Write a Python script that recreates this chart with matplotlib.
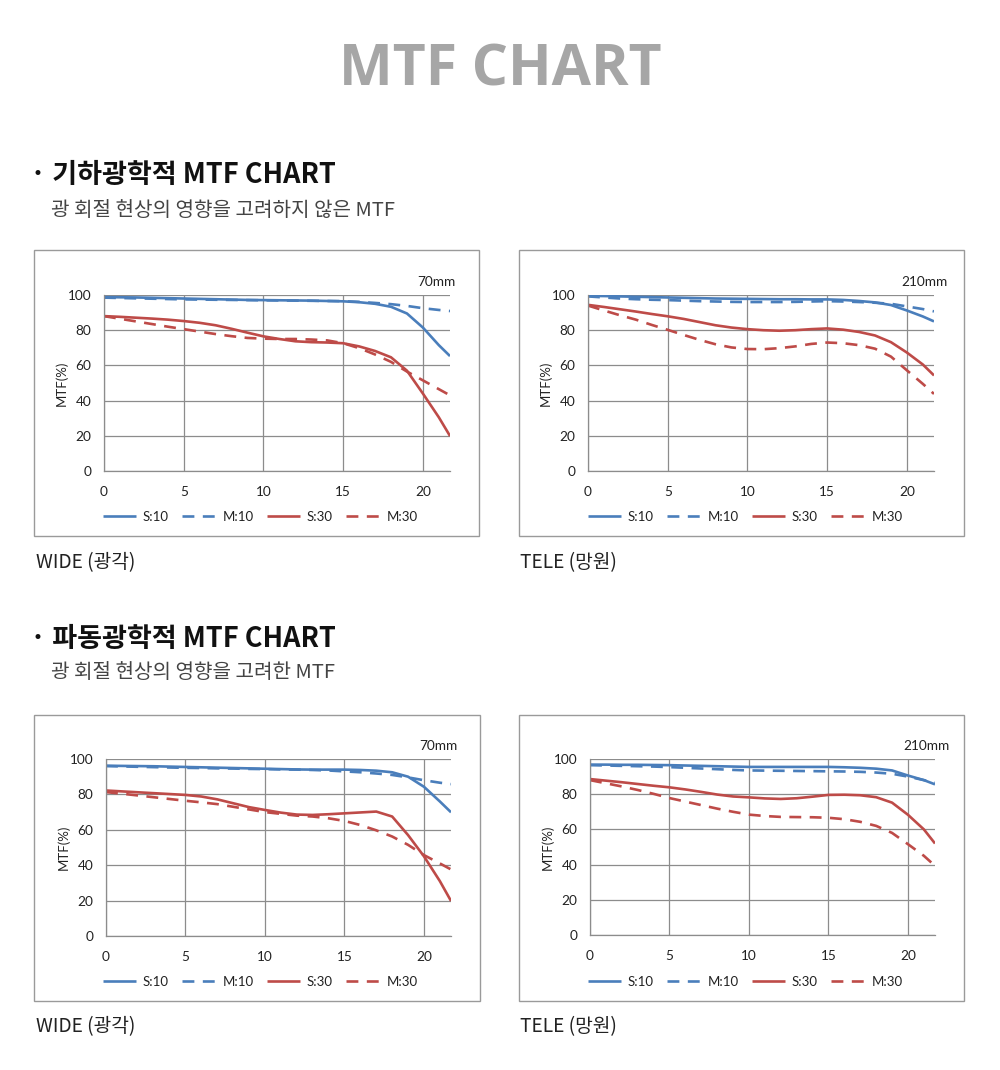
import matplotlib
matplotlib.use("Agg")
import matplotlib.pyplot as plt
from matplotlib.patches import Rectangle

plt.rcParams['font.family'] = ['Lato', 'Noto Sans CJK KR', 'DejaVu Sans']

# ---------------- data ----------------
field_x = [0, 1, 2, 3, 4, 5, 6, 7, 8, 9, 10, 11, 12, 13, 14, 15, 16, 17, 18, 19, 20, 21, 21.7]
x_ticks = [0, 5, 10, 15, 20]
y_ticks = [0, 20, 40, 60, 80, 100]
series_names = ["S:10", "M:10", "S:30", "M:30"]

# geometric MTF, wide (70mm)
geo_wide_s10 = [98.8, 98.7, 98.6, 98.4, 98.2, 98.0, 97.8, 97.6, 97.4, 97.2, 97.1, 97.0, 96.9, 96.8, 96.6, 96.4, 95.9, 95.0, 93.3, 89.5, 81.5, 71.5, 65.3]
geo_wide_m10 = [98.5, 98.3, 98.1, 97.9, 97.7, 97.5, 97.4, 97.3, 97.2, 97.1, 97.0, 96.9, 96.8, 96.7, 96.6, 96.5, 96.1, 95.5, 94.8, 93.8, 92.5, 91.5, 90.9]
geo_wide_s30 = [88.0, 87.6, 87.1, 86.6, 86.0, 85.2, 84.2, 82.8, 80.8, 78.6, 76.5, 75.0, 73.7, 73.2, 73.0, 72.6, 70.8, 68.2, 64.6, 57.0, 44.0, 30.5, 19.9]
geo_wide_m30 = [88.0, 86.5, 85.0, 83.5, 82.0, 80.6, 79.2, 77.8, 76.6, 75.6, 75.2, 75.0, 75.0, 74.7, 74.2, 72.6, 69.8, 66.2, 62.0, 56.5, 51.5, 46.5, 43.0]

# geometric MTF, tele (210mm)
geo_tele_s10 = [99.5, 99.4, 99.2, 99.0, 98.8, 98.6, 98.4, 98.2, 98.0, 97.9, 97.8, 97.7, 97.6, 97.6, 97.5, 97.5, 97.2, 96.6, 95.8, 94.3, 91.2, 87.8, 85.0]
geo_tele_m10 = [99.2, 98.6, 98.0, 97.6, 97.3, 97.1, 96.8, 96.5, 96.3, 96.1, 96.0, 96.0, 96.0, 96.1, 96.3, 96.5, 96.3, 96.0, 95.6, 95.0, 93.5, 92.0, 90.7]
geo_tele_s30 = [94.4, 93.2, 91.9, 90.6, 89.2, 87.9, 86.4, 84.6, 82.8, 81.5, 80.6, 80.0, 79.7, 80.0, 80.6, 81.0, 80.3, 79.0, 77.0, 73.2, 67.3, 60.5, 54.3]
geo_tele_m30 = [94.0, 91.2, 88.5, 86.0, 83.0, 80.2, 77.3, 74.5, 72.0, 70.2, 69.3, 69.2, 69.8, 70.8, 72.2, 73.0, 72.6, 71.5, 69.5, 65.0, 57.2, 49.5, 43.8]

# wave-optical MTF, wide (70mm)
wave_wide_s10 = [96.2, 96.1, 96.0, 95.9, 95.7, 95.5, 95.3, 95.1, 94.9, 94.7, 94.5, 94.3, 94.1, 94.0, 94.0, 94.0, 93.8, 93.4, 92.5, 90.0, 84.3, 76.0, 69.9]
wave_wide_m10 = [96.0, 95.8, 95.6, 95.4, 95.2, 95.0, 94.9, 94.7, 94.6, 94.4, 94.3, 94.1, 94.0, 93.8, 93.5, 93.0, 92.5, 91.8, 91.0, 89.6, 88.0, 86.6, 85.8]
wave_wide_s30 = [82.2, 81.7, 81.2, 80.7, 80.2, 79.7, 78.8, 77.2, 75.0, 72.8, 71.2, 69.7, 68.6, 68.4, 68.8, 69.3, 69.8, 70.3, 67.5, 57.0, 45.0, 31.0, 19.8]
wave_wide_m30 = [81.3, 80.4, 79.4, 78.4, 77.4, 76.4, 75.5, 74.5, 73.0, 71.5, 70.0, 69.0, 68.0, 67.5, 66.5, 65.0, 62.7, 59.7, 56.2, 51.5, 45.7, 41.0, 37.6]

# wave-optical MTF, tele (210mm)
wave_tele_s10 = [96.8, 96.8, 96.7, 96.7, 96.6, 96.5, 96.3, 96.1, 95.9, 95.7, 95.5, 95.5, 95.5, 95.5, 95.5, 95.5, 95.3, 95.0, 94.5, 93.5, 90.6, 88.0, 85.6]
wave_tele_m10 = [96.5, 96.3, 96.1, 95.9, 95.7, 95.4, 95.0, 94.6, 94.2, 93.8, 93.5, 93.4, 93.3, 93.2, 93.1, 93.0, 92.9, 92.7, 92.3, 91.6, 90.0, 88.0, 86.5]
wave_tele_s30 = [88.6, 87.7, 86.8, 85.8, 84.8, 83.9, 82.7, 81.3, 79.8, 78.7, 78.2, 77.6, 77.3, 77.7, 78.6, 79.6, 79.7, 79.4, 78.3, 75.2, 68.3, 60.0, 52.0]
wave_tele_m30 = [88.0, 86.2, 84.4, 82.4, 80.2, 77.8, 75.8, 73.8, 71.8, 70.0, 68.4, 67.6, 67.1, 67.0, 66.9, 66.6, 65.8, 64.3, 62.0, 58.0, 51.6, 45.0, 39.3]

focal_labels = ["70mm", "210mm", "70mm", "210mm"]
panel_captions = ["WIDE (광각)", "TELE (망원)", "WIDE (광각)", "TELE (망원)"]

# ---------------- figure ----------------
W, H = 1000, 1070
fig = plt.figure(figsize=(W / 100, H / 100), dpi=100)
fig.patch.set_facecolor("white")

def fx(px):
    return px / W

def fy(py):
    return 1 - py / H

BLUE = "#4a7ebb"
RED = "#be4b48"
GRID = "#8c8c8c"
KR = ['Noto Sans CJK KR', 'DejaVu Sans']

# title
fig.text(fx(500), fy(71), "MTF CHART", family=['Open Sans', 'DejaVu Sans'], weight='bold',
         fontsize=41, color="#a6a6a6", ha='center', va='center')

# section headings
fig.text(fx(30), fy(175), "· 기하광학적 MTF CHART", family=KR, weight='bold',
         fontsize=19.5, color="#111111", ha='left', va='center')
fig.text(fx(51), fy(211), "광 회절 현상의 영향을 고려하지 않은 MTF", family=KR, weight='light',
         fontsize=14.5, color="#444444", ha='left', va='center')
fig.text(fx(30), fy(639), "· 파동광학적 MTF CHART", family=KR, weight='bold',
         fontsize=19.5, color="#111111", ha='left', va='center')
fig.text(fx(51), fy(673), "광 회절 현상의 영향을 고려한 MTF", family=KR, weight='light',
         fontsize=14.5, color="#444444", ha='left', va='center')

panels = [
    dict(data=[geo_wide_s10, geo_wide_m10, geo_wide_s30, geo_wide_m30],
         box=(34, 250, 479, 536), ax=(104, 295, 450, 471), cap=(36, 563)),
    dict(data=[geo_tele_s10, geo_tele_m10, geo_tele_s30, geo_tele_m30],
         box=(519, 250, 964, 536), ax=(588, 295, 934, 471), cap=(520, 563)),
    dict(data=[wave_wide_s10, wave_wide_m10, wave_wide_s30, wave_wide_m30],
         box=(34, 715, 480, 1001), ax=(106, 759, 451, 936), cap=(36, 1027)),
    dict(data=[wave_tele_s10, wave_tele_m10, wave_tele_s30, wave_tele_m30],
         box=(519, 715, 964, 1001), ax=(590, 759, 935, 935), cap=(520, 1027)),
]

colors = [BLUE, BLUE, RED, RED]
styles = ['-', (0, (4.5, 3.2)), '-', (0, (4.5, 3.2))]

for i, p in enumerate(panels):
    bx0, by0, bx1, by1 = p['box']
    fig.patches.append(Rectangle((fx(bx0), fy(by1)), fx(bx1 - bx0), (by1 - by0) / H,
                                 transform=fig.transFigure, fill=False,
                                 edgecolor="#9a9a9a", linewidth=1.0))
    ax0, ay0, ax1, ay1 = p['ax']
    ax = fig.add_axes([fx(ax0), fy(ay1), fx(ax1 - ax0), (ay1 - ay0) / H])
    handles = []
    for vals, c, ls, name in zip(p['data'], colors, styles, series_names):
        ln, = ax.plot(field_x, vals, color=c, linestyle=ls, linewidth=1.9,
                      solid_capstyle='butt', dash_capstyle='butt', label=name)
        handles.append(ln)
    ax.set_xlim(0, 21.7)
    ax.set_ylim(0, 100)
    ax.set_xticks(x_ticks)
    ax.set_yticks(y_ticks)
    ax.set_xticklabels([str(v) for v in x_ticks])
    ax.set_yticklabels([str(v) for v in y_ticks])
    ax.grid(True, color=GRID, linewidth=0.9)
    ax.set_axisbelow(True)
    for s in ['right', 'top']:
        ax.spines[s].set_visible(False)
    for s in ['left', 'bottom']:
        ax.spines[s].set_color(GRID)
        ax.spines[s].set_linewidth(0.9)
    ax.tick_params(length=0, labelsize=9.8, colors="#222222", pad=9)
    ax.tick_params(axis='x', pad=11)
    ax.text(-43 / (ax1 - ax0), 0.5, "MTF(%)", transform=ax.transAxes, rotation=90,
            ha='center', va='center', fontsize=9.5, color="#222222")
    ax.text(313 / (ax1 - ax0), 1 + 13 / (ay1 - ay0), focal_labels[i], transform=ax.transAxes,
            ha='left', va='center', fontsize=9.8, color="#222222")
    # legend
    leg_cx = bx0 + 226
    leg_cy = by1 - 19
    fig.legend(handles=handles, loc='center', bbox_to_anchor=(fx(leg_cx), fy(leg_cy)),
               ncol=4, frameon=False, fontsize=9.5, handlelength=2.5, handletextpad=0.55,
               columnspacing=1.0, labelcolor="#222222")
    cx, cy = p['cap']
    fig.text(fx(cx), fy(cy), panel_captions[i], family=KR, weight='light',
             fontsize=13.8, color="#222222", ha='left', va='center')

fig.savefig("out.png", dpi=100, facecolor="white")
